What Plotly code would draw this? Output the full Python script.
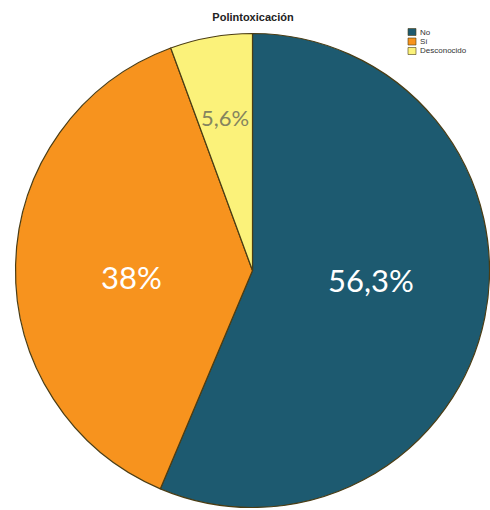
import math
import plotly.graph_objects as go

# Polintoxicación: share of cases
categories = ["No", "Sí", "Desconocido"]
percentages = [56.3, 38.0, 5.6]
slice_colors = ["#1d5a70", "#f7931e", "#fbf27a"]

W, H = 490, 510
# pie geometry in pixels
cx, cy, radius = 252.5, 270.5, 237.0

labels_text = [f"{v:g}".replace(".", ",") + "%" for v in percentages]
label_sizes = [31, 31, 22]
label_colors = ["#ffffff", "#ffffff", "#84845f"]
label_radius_frac = [0.51, 0.51, 0.655]
label_yshift = [14, -9, 0]

fig = go.Figure(
    go.Pie(
        labels=categories,
        values=percentages,
        textinfo="none",
        sort=False,
        direction="clockwise",
        rotation=0,
        marker=dict(colors=slice_colors, line=dict(color="#4b3d14", width=1.2)),
        domain=dict(x=[(cx - radius) / W, (cx + radius) / W],
                    y=[1 - (cy + radius) / H, 1 - (cy - radius) / H]),
        hoverinfo="label+percent",
        showlegend=False,
    )
)

# value labels placed along each slice's bisector
total = sum(percentages)
cum = 0.0
for v, txt, size, col, frac, ys in zip(percentages, labels_text, label_sizes,
                                       label_colors, label_radius_frac, label_yshift):
    mid = (cum + v / 2) / total * 2 * math.pi
    cum += v
    px = cx + frac * radius * math.sin(mid)
    py = cy - frac * radius * math.cos(mid)
    fig.add_annotation(
        x=px / W, y=1 - py / H, xref="paper", yref="paper",
        xanchor="center", yanchor="middle",
        text=txt, showarrow=False, yshift=ys,
        font=dict(family="Lato, Open Sans, sans-serif", size=size, color=col),
    )

# compact legend in the top-right corner
leg_x, leg_y0, leg_step, sw, sh = 408, 32, 9.5, 8, 7
for i, (name, col) in enumerate(zip(categories, slice_colors)):
    yc = leg_y0 + i * leg_step
    fig.add_shape(
        type="rect", xref="paper", yref="paper",
        x0=leg_x / W, x1=(leg_x + sw) / W,
        y0=1 - (yc + sh / 2) / H, y1=1 - (yc - sh / 2) / H,
        fillcolor=col, line=dict(color="#4b3d14", width=0.6),
    )
    fig.add_annotation(
        x=(leg_x + sw + 2) / W, y=1 - yc / H, xref="paper", yref="paper",
        xanchor="left", yanchor="middle", text=name, showarrow=False,
        font=dict(family="Liberation Sans, Arial, sans-serif", size=8, color="#333333"),
    )

fig.update_layout(
    width=W,
    height=H,
    margin=dict(l=0, r=0, t=0, b=0),
    paper_bgcolor="#ffffff",
    title=dict(
        text="<b>Polintoxicación</b>",
        x=253 / W,
        xanchor="center",
        y=1 - 17 / H,
        yanchor="middle",
        font=dict(family="Liberation Sans, Arial, sans-serif", size=11, color="#222222"),
    ),
)

fig.write_html("out.html")
